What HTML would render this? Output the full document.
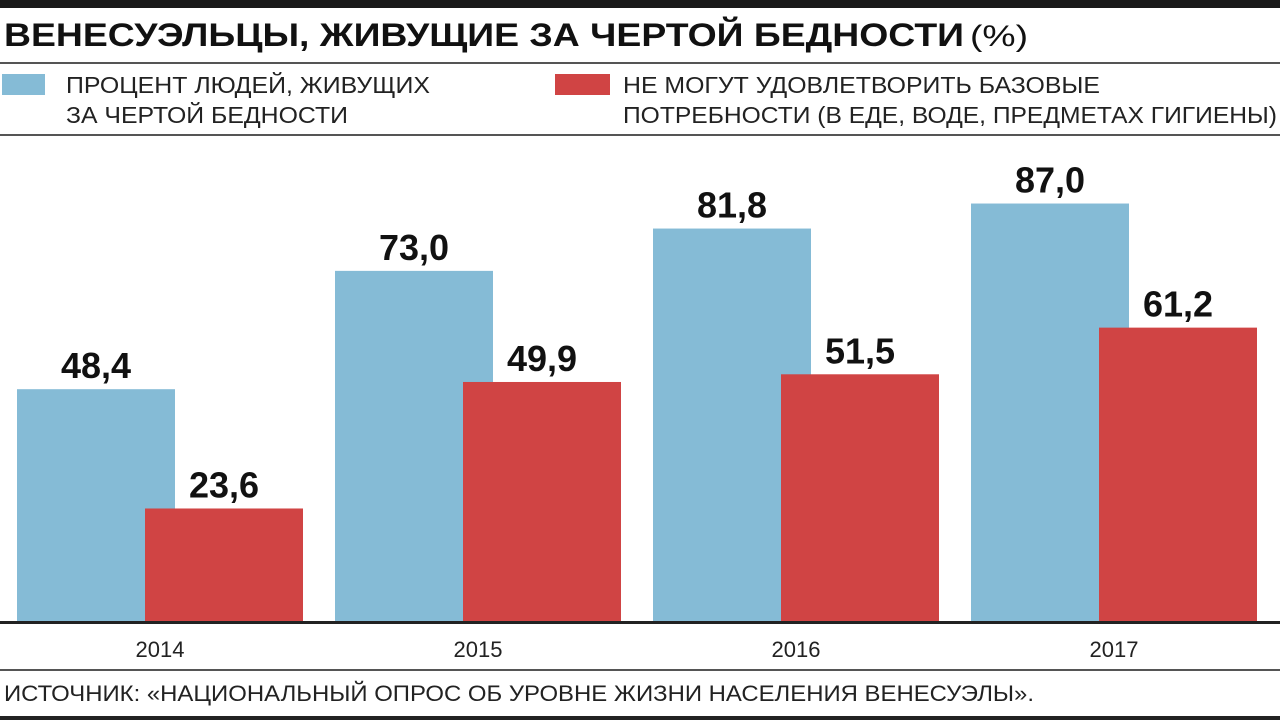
<!DOCTYPE html>
<html><head><meta charset="utf-8">
<style>
html,body{margin:0;padding:0;background:#fff;}
svg{display:block;font-family:"Liberation Sans","DejaVu Sans",sans-serif;}
</style></head>
<body>
<svg id="chart" width="1280" height="720" viewBox="0 0 1280 720">
  <rect x="0" y="0" width="1280" height="8" fill="#1a1a1a"/>
  <text x="4" y="46" font-size="32" font-weight="bold" fill="#111" textLength="960" lengthAdjust="spacingAndGlyphs">ВЕНЕСУЭЛЬЦЫ, ЖИВУЩИЕ ЗА ЧЕРТОЙ БЕДНОСТИ</text>
  <text x="970" y="46" font-size="30" fill="#111" textLength="58" lengthAdjust="spacingAndGlyphs">(%)</text>
  <rect x="0" y="62" width="1280" height="2" fill="#555"/>
  <g>
    <rect x="2" y="74" width="43" height="21" fill="#85bbd6"/>
    <text x="66" y="93" font-size="23" fill="#222" textLength="364" lengthAdjust="spacingAndGlyphs">ПРОЦЕНТ ЛЮДЕЙ, ЖИВУЩИХ</text>
    <text x="66" y="123" font-size="23" fill="#222" textLength="282" lengthAdjust="spacingAndGlyphs">ЗА ЧЕРТОЙ БЕДНОСТИ</text>
    <rect x="555" y="74" width="55" height="21" fill="#d04444"/>
    <text x="623" y="93" font-size="23" fill="#222" textLength="477" lengthAdjust="spacingAndGlyphs">НЕ МОГУТ УДОВЛЕТВОРИТЬ БАЗОВЫЕ</text>
    <text x="623" y="123" font-size="23" fill="#222" textLength="654" lengthAdjust="spacingAndGlyphs">ПОТРЕБНОСТИ (В ЕДЕ, ВОДЕ, ПРЕДМЕТАХ ГИГИЕНЫ)</text>
  </g>
  <rect x="0" y="134" width="1280" height="2" fill="#555"/>
  <g id="bars"></g>
  <rect x="0" y="621" width="1280" height="3" fill="#222"/>
  <g id="xlabels"></g>
  <rect x="0" y="669" width="1280" height="2" fill="#555"/>
  <text x="4" y="701" font-size="22" fill="#222" textLength="1030" lengthAdjust="spacingAndGlyphs">ИСТОЧНИК: «НАЦИОНАЛЬНЫЙ ОПРОС ОБ УРОВНЕ ЖИЗНИ НАСЕЛЕНИЯ ВЕНЕСУЭЛЫ».</text>
  <rect x="0" y="716" width="1280" height="4" fill="#222"/>
</svg>
<script>
const years = ["2014","2015","2016","2017"];
const povertyValues = [48.4, 73.0, 81.8, 87.0];
const needsValues = [23.6, 49.9, 51.5, 61.2];

const NS = "http://www.w3.org/2000/svg";
const baseY = 622, pxPerUnit = 4.81;
const groupStart = 17, groupStep = 318, barW = 158, redOffset = 128;
function y(v){ return baseY - v * pxPerUnit; }
function gx(i){ return groupStart + i * groupStep; }
function fmt(v){ return v.toFixed(1).replace(".", ","); }
const barsG = document.getElementById("bars");
const labG = document.getElementById("xlabels");
function mk(tag, attrs){ const e=document.createElementNS(NS,tag); for(const k in attrs) e.setAttribute(k, attrs[k]); return e; }

years.forEach((yr, i) => {
  const series = [[povertyValues[i], "#85bbd6", 0, "poverty"], [needsValues[i], "#d04444", redOffset, "needs"]];
  series.forEach(([v, col, off, key]) => {
    const x = gx(i) + off;
    const r = mk("rect", {x: x, y: y(v), width: barW, height: baseY - y(v), fill: col});
    
    
    barsG.appendChild(r);
    const t = mk("text", {x: x + barW/2, y: y(v) - 11, "text-anchor": "middle", "font-size": 36, "font-weight": "bold", fill: "#111"});
    t.textContent = fmt(v);
    
    
    barsG.appendChild(t);
  });
  const xl = mk("text", {x: gx(i) + (barW + redOffset)/2, y: 657, "text-anchor": "middle", "font-size": 22, fill: "#222"});
  xl.textContent = yr;
  
  
  labG.appendChild(xl);
});
</script>
</body></html>
